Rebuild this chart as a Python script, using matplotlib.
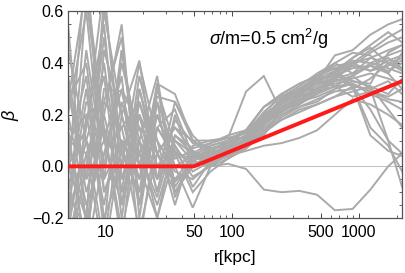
# -*- coding: utf-8 -*-
'''beta(r) profiles, sigma/m = 0.5 cm^2/g'''
import matplotlib
matplotlib.use('Agg')
import matplotlib.pyplot as plt
from matplotlib.ticker import FixedLocator, MultipleLocator, NullFormatter

# radius bins [kpc]
r = [5.1, 7.1, 9.8, 13.5, 18.6, 25.7, 35.5, 49, 67.6, 93,
     129, 178, 245, 339, 468, 646, 891, 1230, 1700, 2190]

# individual halo profiles beta(r)
halos = [
    [0.25, 0.40, -0.10, 0.05, 0.20, -0.05, 0.10, 0.02, 0.05, 0.07, 0.10, 0.17, 0.23, 0.27, 0.33, 0.31, 0.35, 0.40, 0.43, 0.45],
    [-0.25, 0.65, 0.10, -0.15, 0.30, 0.05, -0.05, 0.00, 0.04, 0.08, 0.12, 0.20, 0.24, 0.28, 0.31, 0.36, 0.33, 0.31, 0.22, 0.15],
    [0.10, -0.20, 0.60, 0.20, -0.10, 0.15, 0.03, 0.06, 0.02, 0.05, 0.09, 0.17, 0.22, 0.26, 0.30, 0.34, 0.40, 0.45, 0.50, 0.53],
    [0.00, 0.15, 0.70, -0.05, 0.10, 0.35, -0.08, 0.03, 0.07, 0.09, 0.12, 0.19, 0.26, 0.29, 0.30, 0.35, 0.38, 0.39, 0.42, 0.38],
    [-0.10, 0.30, -0.25, 0.45, 0.05, -0.12, 0.12, 0.05, 0.01, 0.04, 0.08, 0.16, 0.22, 0.24, 0.29, 0.31, 0.27, 0.29, 0.26, 0.25],
    [0.35, -0.05, 0.50, 0.00, 0.40, 0.10, -0.15, 0.08, 0.10, 0.11, 0.13, 0.20, 0.25, 0.28, 0.35, 0.40, 0.44, 0.43, 0.36, 0.30],
    [-0.30, 0.05, 0.20, 0.55, -0.20, 0.25, 0.06, -0.04, 0.00, 0.03, 0.07, 0.13, 0.19, 0.23, 0.25, 0.30, 0.33, 0.32, 0.44, 0.47],
    [0.20, -0.15, 0.05, 0.30, 0.15, -0.10, 0.20, 0.00, 0.03, 0.07, 0.10, 0.16, 0.21, 0.25, 0.28, 0.33, 0.35, 0.39, 0.36, 0.44],
    [-0.05, 0.80, -0.10, 0.10, -0.25, 0.05, 0.15, 0.10, 0.06, 0.06, 0.10, 0.18, 0.26, 0.30, 0.33, 0.36, 0.31, 0.15, 0.08, -0.02],
    [0.15, 0.10, 0.35, -0.20, 0.25, 0.00, -0.05, 0.04, 0.08, 0.10, 0.13, 0.21, 0.27, 0.29, 0.34, 0.35, 0.41, 0.40, 0.38, 0.36],
    [0.05, -0.30, 0.25, 0.15, -0.15, 0.30, 0.08, -0.02, 0.02, 0.05, 0.08, 0.14, 0.20, 0.24, 0.28, 0.31, 0.32, 0.28, 0.25, 0.22],
    [-0.20, 0.45, 0.00, 0.40, 0.10, -0.05, 0.25, 0.12, 0.05, 0.08, 0.12, 0.20, 0.25, 0.30, 0.35, 0.39, 0.40, 0.37, 0.39, 0.41],
    [0.30, -0.10, 0.15, -0.05, 0.20, 0.05, -0.10, 0.02, 0.00, 0.01, -0.01, -0.09, -0.10, -0.095, -0.11, -0.17, -0.165, -0.09, 0.00, 0.05],
    [0.10, 0.20, -0.15, 0.25, 0.00, 0.27, 0.25, 0.10, 0.10, 0.11, 0.29, 0.35, 0.21, 0.28, 0.33, 0.43, 0.45, 0.51, 0.55, 0.57],
    [-0.35, 0.00, 0.40, -0.10, 0.05, 0.20, 0.00, -0.16, 0.00, 0.05, 0.09, 0.17, 0.22, 0.26, 0.29, 0.34, 0.39, 0.44, 0.48, 0.50],
    [0.45, 0.10, -0.30, 0.20, 0.41, -0.05, 0.05, 0.03, 0.06, 0.09, 0.14, 0.23, 0.28, 0.32, 0.35, 0.38, 0.31, 0.12, 0.06, 0.04],
    [0.00, -0.20, 0.65, 0.05, -0.10, 0.32, 0.28, 0.10, 0.04, 0.07, 0.11, 0.19, 0.24, 0.28, 0.32, 0.37, 0.42, 0.47, 0.52, 0.48],
    [-0.15, 0.25, 0.15, -0.30, 0.30, 0.00, 0.10, 0.05, 0.02, 0.04, 0.06, 0.08, 0.09, 0.11, 0.14, 0.20, 0.26, 0.24, 0.20, 0.16],
    [0.20, 0.60, -0.05, 0.10, -0.05, 0.32, -0.10, 0.00, 0.05, 0.08, 0.12, 0.21, 0.27, 0.31, 0.36, 0.40, 0.36, 0.42, 0.40, 0.37],
    [-0.10, -0.25, 0.30, 0.29, 0.00, -0.20, 0.12, 0.07, 0.09, 0.11, 0.11, 0.12, 0.22, 0.27, 0.30, 0.32, 0.34, 0.36, 0.34, 0.32],
    [0.05, 0.35, -0.20, 0.00, 0.15, 0.10, -0.02, -0.05, 0.01, 0.04, 0.07, 0.15, 0.20, 0.23, 0.26, 0.29, 0.30, 0.34, 0.40, 0.42],
    [0.30, -0.05, 0.10, 0.35, -0.30, 0.15, 0.05, 0.02, 0.06, 0.10, 0.14, 0.23, 0.28, 0.32, 0.35, 0.38, 0.40, 0.42, 0.45, 0.47],
    [-0.25, 0.15, 0.55, -0.15, 0.20, -0.10, 0.18, 0.09, 0.07, 0.08, 0.10, 0.17, 0.21, 0.25, 0.30, 0.34, 0.31, 0.30, 0.10, -0.08],
    [0.15, -0.35, 0.05, 0.15, 0.25, 0.05, -0.06, 0.01, 0.03, 0.06, 0.10, 0.18, 0.23, 0.27, 0.30, 0.33, 0.35, 0.30, 0.33, 0.28],
    [-0.40, 0.20, 0.25, 0.50, -0.15, 0.20, 0.00, 0.04, 0.08, 0.10, 0.14, 0.23, 0.27, 0.30, 0.32, 0.34, 0.36, 0.39, 0.37, 0.40],
    [0.10, 0.05, -0.35, 0.10, 0.05, -0.15, 0.08, -0.08, 0.02, 0.06, 0.10, 0.18, 0.22, 0.25, 0.27, 0.30, 0.32, 0.29, 0.27, 0.30],
    [0.55, -0.25, 0.20, -0.10, 0.35, 0.05, 0.15, 0.06, 0.03, 0.05, 0.09, 0.14, 0.18, 0.22, 0.24, 0.27, 0.31, 0.22, 0.10, 0.05],
    [-0.20, 0.10, -0.05, 0.45, 0.00, 0.25, -0.12, 0.05, 0.09, 0.12, 0.14, 0.20, 0.25, 0.30, 0.34, 0.37, 0.39, 0.37, 0.41, 0.43],
    [0.25, 0.70, 0.15, -0.25, 0.10, -0.20, 0.05, -0.10, -0.02, 0.03, 0.07, 0.13, 0.18, 0.21, 0.24, 0.27, 0.29, 0.31, 0.28, 0.34],
    [-0.05, -0.35, 0.45, 0.20, -0.05, 0.15, 0.22, 0.04, 0.01, 0.06, 0.11, 0.18, 0.24, 0.29, 0.33, 0.36, 0.42, 0.46, 0.40, 0.38],
]

# broken fit: flat below r_break, rising above
fit_r = [5.1, 50, 2190]
fit_beta = [0.0, 0.0, 0.33]

xticks = [10, 50, 100, 500, 1000]
xticklabels = ['10', '50', '100', '500', '1000']
yticks = [-0.2, 0.0, 0.2, 0.4, 0.6]
yticklabels = ['\u22120.2', '0.0', '0.2', '0.4', '0.6']

plt.rcParams['font.family'] = ['Liberation Sans', 'DejaVu Sans']
plt.rcParams['mathtext.fontset'] = 'custom'
plt.rcParams['mathtext.rm'] = 'Liberation Sans'
plt.rcParams['mathtext.it'] = 'Liberation Sans:italic'

fig = plt.figure(figsize=(4.05, 2.73), dpi=100)
ax = fig.add_axes([0.168, 0.2015, 0.825, 0.7565])

for b in halos:
    ax.plot(r, b, color='#aaaaaa', lw=1.4, solid_joinstyle='miter')

ax.axhline(0, color='#b4b4b4', lw=0.6, zorder=1)
ax.plot(fit_r, fit_beta, color='#ff1a1a', lw=2.8, zorder=5)

ax.set_xscale('log')
ax.set_xlim(5.1, 2190)
ax.set_ylim(-0.2, 0.6)

ax.xaxis.set_major_locator(FixedLocator(xticks))
ax.set_xticklabels(xticklabels)
ax.xaxis.set_minor_formatter(NullFormatter())
ax.set_yticks(yticks)
ax.set_yticklabels(yticklabels)
ax.yaxis.set_minor_locator(MultipleLocator(0.05))

ax.tick_params(which='both', direction='in', top=True, right=True,
               color='#444444', labelsize=11.5)
ax.tick_params(axis='x', pad=5)
ax.tick_params(axis='y', pad=3)
ax.tick_params(which='major', length=3.5, width=0.7)
ax.tick_params(which='minor', length=2, width=0.6)
for s in ax.spines.values():
    s.set_color('#555555')
    s.set_linewidth(0.9)

ax.set_xlabel('r[kpc]', fontsize=12.5, labelpad=7)
ax.set_ylabel(r'$\beta$', fontsize=13, labelpad=8)
ax.text(0.60, 0.867, r'$\sigma$/m=0.5 cm$^2$/g', transform=ax.transAxes,
        ha='center', va='center', fontsize=13)

fig.savefig('out.png', dpi=100)
